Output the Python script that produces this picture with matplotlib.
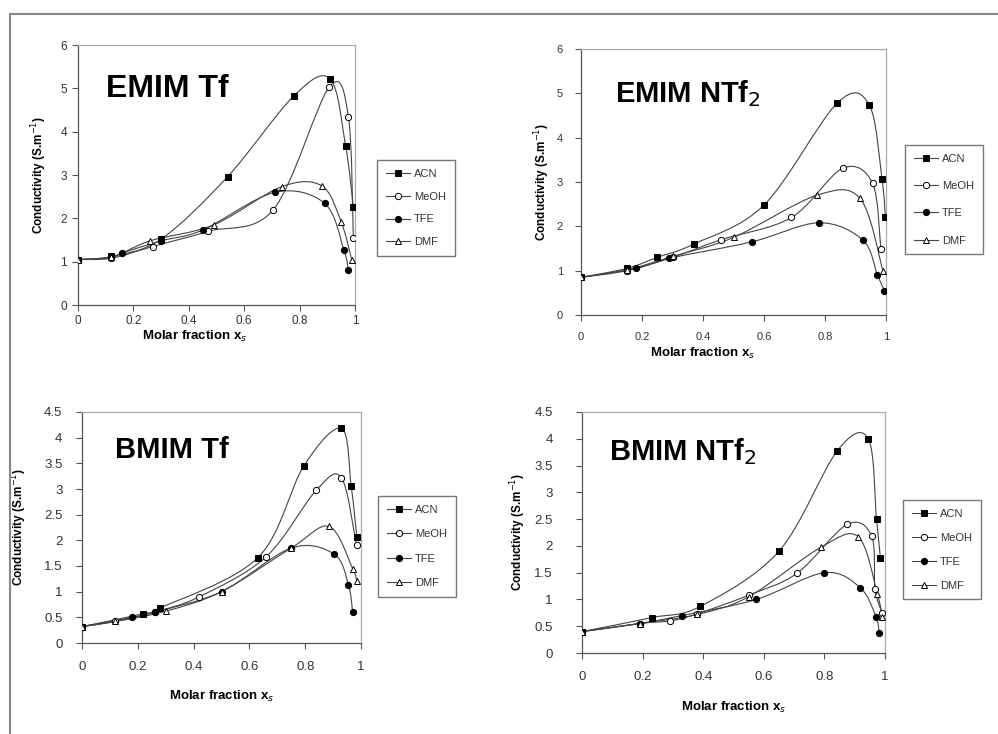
import numpy as np
import matplotlib
matplotlib.use("Agg")
import matplotlib.pyplot as plt
from matplotlib.path import Path
from matplotlib.patches import PathPatch
from matplotlib.lines import Line2D

# ---- data ----
solvents = ["ACN", "MeOH", "TFE", "DMF"]

# EMIM Tf
emim_tf_acn_x = [0, 0.12, 0.3, 0.54, 0.78, 0.91, 0.966, 0.994]
emim_tf_acn_y = [1.05, 1.12, 1.52, 2.96, 4.83, 5.22, 3.68, 2.27]
emim_tf_meoh_x = [0, 0.12, 0.27, 0.47, 0.705, 0.907, 0.976, 0.994]
emim_tf_meoh_y = [1.05, 1.08, 1.35, 1.7, 2.2, 5.03, 4.35, 1.55]
emim_tf_tfe_x = [0, 0.12, 0.16, 0.3, 0.45, 0.71, 0.89, 0.96, 0.976]
emim_tf_tfe_y = [1.05, 1.1, 1.2, 1.48, 1.73, 2.6, 2.35, 1.27, 0.8]
emim_tf_dmf_x = [0, 0.12, 0.26, 0.49, 0.735, 0.88, 0.95, 0.988]
emim_tf_dmf_y = [1.05, 1.1, 1.48, 1.85, 2.73, 2.75, 1.92, 1.05]

# EMIM NTf2
emim_ntf2_acn_x = [0, 0.15, 0.25, 0.37, 0.6, 0.84, 0.945, 0.987, 0.998]
emim_ntf2_acn_y = [0.85, 1.05, 1.3, 1.6, 2.48, 4.78, 4.74, 3.06, 2.2]
emim_ntf2_meoh_x = [0, 0.15, 0.3, 0.46, 0.69, 0.858, 0.956, 0.983]
emim_ntf2_meoh_y = [0.85, 1.0, 1.3, 1.7, 2.2, 3.31, 2.97, 1.5]
emim_ntf2_tfe_x = [0, 0.18, 0.29, 0.56, 0.78, 0.924, 0.972, 0.995]
emim_ntf2_tfe_y = [0.85, 1.05, 1.28, 1.65, 2.08, 1.69, 0.9, 0.55]
emim_ntf2_dmf_x = [0, 0.15, 0.3, 0.5, 0.773, 0.915, 0.99]
emim_ntf2_dmf_y = [0.85, 1.02, 1.32, 1.75, 2.7, 2.63, 1.0]

# BMIM Tf
bmim_tf_acn_x = [0, 0.22, 0.28, 0.63, 0.795, 0.93, 0.965, 0.985]
bmim_tf_acn_y = [0.32, 0.57, 0.68, 1.66, 3.45, 4.18, 3.05, 2.07]
bmim_tf_meoh_x = [0, 0.12, 0.26, 0.42, 0.66, 0.84, 0.93, 0.984]
bmim_tf_meoh_y = [0.32, 0.42, 0.6, 0.9, 1.68, 2.98, 3.22, 1.9]
bmim_tf_tfe_x = [0, 0.18, 0.26, 0.5, 0.75, 0.904, 0.955, 0.97]
bmim_tf_tfe_y = [0.32, 0.5, 0.6, 1.0, 1.85, 1.73, 1.13, 0.61]
bmim_tf_dmf_x = [0, 0.12, 0.3, 0.5, 0.75, 0.886, 0.97, 0.985]
bmim_tf_dmf_y = [0.32, 0.42, 0.62, 1.0, 1.85, 2.27, 1.45, 1.2]

# BMIM NTf2
bmim_ntf2_acn_x = [0, 0.23, 0.39, 0.65, 0.843, 0.945, 0.972, 0.985]
bmim_ntf2_acn_y = [0.4, 0.66, 0.87, 1.9, 3.78, 4.0, 2.5, 1.77]
bmim_ntf2_meoh_x = [0, 0.19, 0.29, 0.38, 0.55, 0.71, 0.875, 0.956, 0.967, 0.99]
bmim_ntf2_meoh_y = [0.4, 0.55, 0.6, 0.73, 1.08, 1.49, 2.4, 2.18, 1.2, 0.75]
bmim_ntf2_tfe_x = [0, 0.19, 0.33, 0.575, 0.8, 0.918, 0.97, 0.981]
bmim_ntf2_tfe_y = [0.4, 0.55, 0.7, 1.0, 1.5, 1.22, 0.68, 0.37]
bmim_ntf2_dmf_x = [0, 0.19, 0.38, 0.55, 0.79, 0.912, 0.975, 0.99]
bmim_ntf2_dmf_y = [0.4, 0.55, 0.72, 1.05, 1.98, 2.17, 1.1, 0.68]

x_ticks = [0, 0.2, 0.4, 0.6, 0.8, 1]
x_ticklabels = ["0", "0.2", "0.4", "0.6", "0.8", "1"]

# marker style per solvent: (marker, face)
styles = {
    "ACN": ("s", "black"),
    "MeOH": ("o", "white"),
    "TFE": ("o", "black"),
    "DMF": ("^", "white"),
}

NARROW = ["Liberation Sans Narrow", "Liberation Sans", "DejaVu Sans"]
BOLD = ["Liberation Sans", "DejaVu Sans"]
LINE_C = "#444444"


def smooth_path(x, y, t=1 / 6):
    # Excel-like smoothed line as cubic bezier segments
    pts = np.column_stack([x, y]).astype(float)
    n = len(pts)
    verts = [pts[0]]
    codes = [Path.MOVETO]
    for i in range(n - 1):
        p0 = pts[i - 1] if i > 0 else pts[i]
        p1 = pts[i]
        p2 = pts[i + 1]
        p3 = pts[i + 2] if i + 2 < n else pts[i + 1]
        c1 = p1 + (p2 - p0) * t
        c2 = p2 - (p3 - p1) * t
        verts += [c1, c2, p2]
        codes += [Path.CURVE4] * 3
    return Path(verts, codes)


def draw_panel(ax, series, title, title_fs, ymax, ystep, tick_fs, title_xy,
               xpad, ypad, ylab_x, xlab_xy):
    for name, (xs, ys) in zip(solvents, series):
        ax.add_patch(PathPatch(smooth_path(xs, ys), fill=False,
                               edgecolor=LINE_C, lw=0.8, zorder=2))
        mk, fc = styles[name]
        ax.plot(xs, ys, linestyle="none", marker=mk, markersize=4.5,
                markerfacecolor=fc, markeredgecolor="black",
                markeredgewidth=0.7, zorder=3)
    ax.set_xlim(0, 1)
    ax.set_ylim(0, ymax)
    ax.set_xticks(x_ticks)
    ax.set_xticklabels(x_ticklabels)
    yt = np.arange(0, ymax + 1e-9, ystep)
    ax.set_yticks(yt)
    ax.set_yticklabels([f"{v:g}" for v in yt])
    for lab in ax.get_xticklabels() + ax.get_yticklabels():
        lab.set_fontfamily(NARROW)
        lab.set_fontsize(tick_fs)
        lab.set_color("#333333")
    ax.tick_params(direction="out", length=4, width=0.8, color="#555555")
    ax.tick_params(axis="x", pad=xpad)
    ax.tick_params(axis="y", pad=ypad)
    for s in ["left", "bottom"]:
        ax.spines[s].set_color("#555555")
        ax.spines[s].set_linewidth(0.9)
    for s in ["top", "right"]:
        ax.spines[s].set_color("#aaaaaa")
        ax.spines[s].set_linewidth(0.9)
    ax.text(title_xy[0], title_xy[1], title, transform=ax.transAxes,
            fontsize=title_fs, fontweight="bold", family=BOLD, va="baseline")
    ax.set_ylabel("Conductivity (S.m$^{-1}$)", fontsize=8.5,
                  fontweight="bold", family=NARROW)
    ax.set_xlabel("Molar fraction x$_s$", fontsize=9.5,
                  fontweight="bold", family=NARROW)
    ax.yaxis.set_label_coords(ylab_x, 0.5)
    ax.xaxis.set_label_coords(*xlab_xy)


fig = plt.figure(figsize=(9.98, 7.34), dpi=100)
W, H = 998.0, 734.0


def axes_px(left, top, right, bottom):
    return fig.add_axes([left / W, 1 - bottom / H, (right - left) / W,
                         (bottom - top) / H])


ax1 = axes_px(78, 45, 355, 305)
ax2 = axes_px(581, 49, 886, 315)
ax3 = axes_px(82, 412, 361, 643)
ax4 = axes_px(582, 412, 885, 653)

draw_panel(ax1, [(emim_tf_acn_x, emim_tf_acn_y), (emim_tf_meoh_x, emim_tf_meoh_y),
                 (emim_tf_tfe_x, emim_tf_tfe_y), (emim_tf_dmf_x, emim_tf_dmf_y)],
           "EMIM Tf", 23, 6, 1, 8.5, (0.1, 0.8),
           xpad=3, ypad=4, ylab_x=-0.105, xlab_xy=(0.42, -0.09))
draw_panel(ax2, [(emim_ntf2_acn_x, emim_ntf2_acn_y), (emim_ntf2_meoh_x, emim_ntf2_meoh_y),
                 (emim_ntf2_tfe_x, emim_ntf2_tfe_y), (emim_ntf2_dmf_x, emim_ntf2_dmf_y)],
           "EMIM NTf$_2$", 21, 6, 1, 8, (0.11, 0.8),
           xpad=8, ypad=9, ylab_x=-0.095, xlab_xy=(0.4, -0.115))
draw_panel(ax3, [(bmim_tf_acn_x, bmim_tf_acn_y), (bmim_tf_meoh_x, bmim_tf_meoh_y),
                 (bmim_tf_tfe_x, bmim_tf_tfe_y), (bmim_tf_dmf_x, bmim_tf_dmf_y)],
           "BMIM Tf", 21, 4.5, 0.5, 9.5, (0.12, 0.8),
           xpad=9, ypad=10, ylab_x=-0.19, xlab_xy=(0.5, -0.2))
draw_panel(ax4, [(bmim_ntf2_acn_x, bmim_ntf2_acn_y), (bmim_ntf2_meoh_x, bmim_ntf2_meoh_y),
                 (bmim_ntf2_tfe_x, bmim_ntf2_tfe_y), (bmim_ntf2_dmf_x, bmim_ntf2_dmf_y)],
           "BMIM NTf$_2$", 21, 4.5, 0.5, 9.5, (0.09, 0.8),
           xpad=9, ypad=17, ylab_x=-0.178, xlab_xy=(0.5, -0.195))

# legends
handles = []
for name in solvents:
    mk, fc = styles[name]
    handles.append(Line2D([], [], color=LINE_C, lw=0.8, marker=mk, markersize=4.5,
                          markerfacecolor=fc, markeredgecolor="black",
                          markeredgewidth=0.7))

for (lx, ly, sp) in [(377, 160, 1.15), (905, 145, 1.55), (378, 496, 1.3), (903, 500, 1.25)]:
    leg = fig.legend(handles, solvents, loc="upper left",
                     bbox_to_anchor=(lx / W, 1 - ly / H),
                     bbox_transform=fig.transFigure,
                     prop={"family": BOLD, "size": 8}, frameon=True,
                     fancybox=False, edgecolor="#777777", framealpha=1,
                     handlelength=2.2, handletextpad=0.3, labelspacing=sp,
                     borderpad=0.8, borderaxespad=0)
    leg.get_frame().set_linewidth(1.0)
    for t in leg.get_texts():
        t.set_color("#333333")

# outer frame
fig.add_artist(Line2D([10 / W, 10 / W], [0, 1 - 14 / H], color="#888888",
                      lw=1.5, transform=fig.transFigure))
fig.add_artist(Line2D([10 / W, 1], [1 - 14 / H, 1 - 14 / H], color="#888888",
                      lw=1.5, transform=fig.transFigure))

fig.savefig("out.png", dpi=100)
